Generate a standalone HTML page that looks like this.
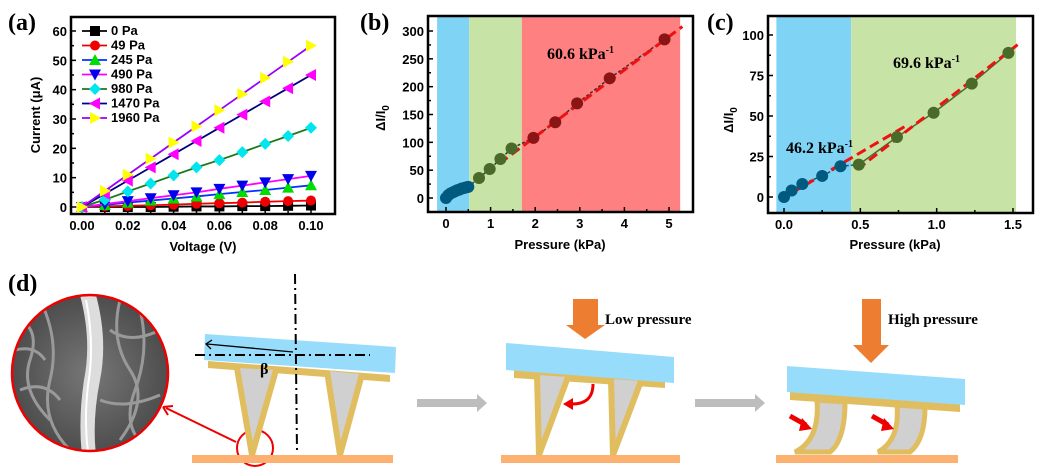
<!DOCTYPE html>
<html><head><meta charset="utf-8">
<style>
html,body{margin:0;padding:0;background:#fff;}
svg{display:block;font-family:"Liberation Sans",sans-serif;}
.tk{font-weight:bold;font-size:13px;fill:#000;}
.pl{font-family:"Liberation Serif",serif;font-weight:bold;font-size:24px;}
.ser{font-family:"Liberation Serif",serif;font-weight:bold;}
</style></head>
<body>
<svg id="fig" width="1048" height="476" viewBox="0 0 1048 476" xmlns="http://www.w3.org/2000/svg">
<g id="pa"></g>
<g id="pb"></g>
<g id="pc"></g>
<g id="pd">
  <text class="pl" x="8" y="291">(d)</text>
  <defs>
    <clipPath id="cc"><circle cx="90" cy="373" r="78"/></clipPath>
    <radialGradient id="sem" cx="50%" cy="50%" r="60%"><stop offset="0" stop-color="#777"/><stop offset="1" stop-color="#444"/></radialGradient>
  </defs>
  <g clip-path="url(#cc)">
    <rect x="10" y="294" width="160" height="160" fill="url(#sem)"/>
    <path d="M20 320 Q40 330 30 360 T50 420 M40 300 Q60 340 50 380 T70 450 M120 300 Q110 340 130 370 T120 440 M140 310 Q150 350 135 390 T150 450 M20 390 Q45 380 60 400 M110 330 Q130 345 160 330 M100 400 Q125 410 160 395 M15 350 Q35 345 45 360" stroke="#999" stroke-width="3" fill="none"/>
    <path d="M80 295 Q92 340 84 380 Q78 420 82 455 L96 455 Q92 420 100 380 Q108 340 96 295 Z" fill="#ddd"/>
    <path d="M86 300 Q95 345 88 385 Q84 420 88 452" stroke="#fff" stroke-width="2" fill="none"/>
  </g>
  <circle cx="90" cy="373" r="78" fill="none" stroke="#e00" stroke-width="2.5"/>
  <line x1="236" y1="442" x2="166" y2="408" stroke="#e00" stroke-width="2"/>
  <path d="M163 407 L173 406 M163 407 L168 415" stroke="#e00" stroke-width="2" fill="none"/>
  <circle cx="255" cy="448" r="18" fill="none" stroke="#e00" stroke-width="2"/>
  <g>
    <rect x="192" y="455" width="201" height="8" fill="#fdb170"/>
    <polygon points="208,361 390,375 390,382 208,368" fill="#e0bd5f"/>
    <polygon points="237,368 276,370 252,455" fill="#d0d0d0"/>
    <polygon points="327,371 362,374 340,455" fill="#d0d0d0"/>
    <path d="M237 368 L252 455 L276 370 M327 371 L340 455 L362 374" stroke="#e0bd5f" stroke-width="6" fill="none"/>
    <polygon points="205,334 396,347 395,373 204,360" fill="#98dcfc"/>
    <line x1="295" y1="274" x2="297" y2="452" stroke="#000" stroke-width="2" stroke-dasharray="10,4,2,4"/>
    <line x1="195" y1="355" x2="370" y2="355" stroke="#000" stroke-width="2" stroke-dasharray="10,4,2,4"/>
    <line x1="293" y1="352" x2="207" y2="344" stroke="#000" stroke-width="1.3"/>
    <path d="M212 340 L206 344 L211 349" stroke="#000" stroke-width="1.3" fill="none"/>
    <text class="ser" x="260" y="374" font-size="16">β</text>
  </g>
  <rect x="417" y="399" width="60" height="8" fill="#bdbdbd"/>
  <polygon points="477,394 487,403 477,412" fill="#bdbdbd"/>
  <g>
    <rect x="573" y="299" width="25" height="27" fill="#ed7d31"/>
    <polygon points="566,325 605,325 585,339" fill="#ed7d31"/>
    <text class="ser" x="605" y="324" font-size="15">Low pressure</text>
    <rect x="501" y="455" width="179" height="8" fill="#fdb170"/>
    <polygon points="514,370 665,380 665,388 514,378" fill="#e0bd5f"/>
    <polygon points="537,375 568,377 539,455" fill="#d0d0d0"/>
    <polygon points="611,379 641,381 613,455" fill="#d0d0d0"/>
    <path d="M537 375 L539 455 L568 377 M611 379 L613 455 L641 381" stroke="#e0bd5f" stroke-width="6" fill="none"/>
    <polygon points="506,343 674,357 674,383 506,370" fill="#98dcfc"/>
    <path d="M593 384 Q593 405 570 404" stroke="#e00" stroke-width="3" fill="none"/>
    <polygon points="573,398 563,404 573,410" fill="#e00"/>
  </g>
  <rect x="695" y="399" width="60" height="8" fill="#bdbdbd"/>
  <polygon points="755,394 765,403 755,412" fill="#bdbdbd"/>
  <g>
    <rect x="862" y="299" width="19" height="47" fill="#ed7d31"/>
    <polygon points="853,345 889,345 871,363" fill="#ed7d31"/>
    <text class="ser" x="888" y="324" font-size="15">High pressure</text>
    <rect x="776" y="455" width="182" height="8" fill="#fdb170"/>
    <polygon points="790,392 960,404 960,412 790,400" fill="#e0bd5f"/>
    <path d="M817 400 Q820 440 795 452 L830 452 Q845 440 845 402 Z" fill="#d0d0d0" stroke="#e0bd5f" stroke-width="5"/>
    <path d="M897 405 Q900 440 878 452 L910 452 Q925 440 925 407 Z" fill="#d0d0d0" stroke="#e0bd5f" stroke-width="5"/>
    <polygon points="787,366 965,379 965,405 787,392" fill="#98dcfc"/>
    <line x1="790" y1="416" x2="806" y2="425" stroke="#e00" stroke-width="5"/>
    <polygon points="802,418 812,429 799,431" fill="#e00"/>
    <line x1="872" y1="416" x2="888" y2="425" stroke="#e00" stroke-width="5"/>
    <polygon points="884,418 894,429 881,431" fill="#e00"/>
  </g>
</g>
</svg>
<script>
const NS='http://www.w3.org/2000/svg';
function mk(p,t,a){const e=document.createElementNS(NS,t);for(const k in a)e.setAttribute(k,a[k]);p.appendChild(e);return e;}
function txt(p,x,y,s,cls,anchor){const e=mk(p,'text',{x:x,y:y,'class':cls||'tk','text-anchor':anchor||'middle'});e.textContent=s;return e;}

const aVoltage=[0,0.01,0.02,0.03,0.04,0.05,0.06,0.07,0.08,0.09,0.10];
const aLabels=['0 Pa','49 Pa','245 Pa','490 Pa','980 Pa','1470 Pa','1960 Pa'];
const a0=[0,0,0,0,0.1,0.2,0.2,0.3,0.3,0.4,0.5];
const a49=[0,0.2,0.4,0.6,0.8,1.1,1.3,1.5,1.8,2.0,2.2];
const a245=[0,0.7,1.5,2.2,2.9,3.6,4.4,5.1,5.8,6.6,7.4];
const a490=[0,1,2,3,4,5,6.2,7.3,8.4,9.5,10.6];
const a980=[0,2.5,5.3,8,10.8,13.5,16,18.7,21.5,24.2,27];
const a1470=[0,4.5,9,13.5,18,22.5,27,31.5,36,40.5,45];
const a1960=[0,5.5,11,16.5,22,27.5,33,38.5,44,49.5,55];
const aXTicks=[0,0.02,0.04,0.06,0.08,0.10];
const aXTickLabels=['0.00','0.02','0.04','0.06','0.08','0.10'];
const aYTicks=[0,10,20,30,40,50,60];

const bPressBlue=[0,0.05,0.1,0.15,0.2,0.25,0.3,0.35,0.4,0.45,0.5];
const bRespBlue=[0,5,8,10,12,14,15,17,18,19,20];
const bPressGreen=[0.74,0.98,1.22,1.47];
const bRespGreen=[36,52,70,89];
const bPressRed=[1.96,2.45,2.94,3.67,4.9];
const bRespRed=[108,136,170,215,285];
const bFitX=[1.2,5.3];
const bFitY=[62,308];
const bBands=[-0.2,0.52,1.7,5.25];
const bXTicks=[0,1,2,3,4,5];
const bYTicks=[0,50,100,150,200,250,300];

const cPressBlue=[0,0.05,0.12,0.25,0.37];
const cRespBlue=[0,4,8,13,19];
const cPressGreen=[0.49,0.74,0.98,1.23,1.47];
const cRespGreen=[20,37,52,70,89];
const cFit1X=[-0.03,0.8];
const cFit1Y=[-2,44];
const cFit2X=[0.48,1.53];
const cFit2Y=[17,94];
const cBands=[-0.05,0.44,1.52];
const cXTicks=[0,0.5,1.0,1.5];
const cXTickLabels=['0.0','0.5','1.0','1.5'];
const cYTicks=[0,25,50,75,100];

function frame(g,x0,y0,x1,y1){
  const r=mk(g,'rect',{x:x0,y:y0,width:x1-x0,height:y1-y0,fill:'none',stroke:'#000','stroke-width':2.5});
  
  
}
function xAxis(g,ticks,labels,sx,y,minor){
  ticks.forEach((t,i)=>{
    mk(g,'line',{x1:sx(t),x2:sx(t),y1:y,y2:y-5,stroke:'#000','stroke-width':1.5});
    const e=txt(g,sx(t),y+16,labels?labels[i]:String(t));
    
    
    if(minor&&i<ticks.length-1){const m=(t+ticks[i+1])/2;mk(g,'line',{x1:sx(m),x2:sx(m),y1:y,y2:y-3,stroke:'#000','stroke-width':1.5});}
  });
}
function yAxis(g,ticks,sy,x,minor){
  ticks.forEach((t,i)=>{
    mk(g,'line',{x1:x,x2:x+5,y1:sy(t),y2:sy(t),stroke:'#000','stroke-width':1.5});
    const e=txt(g,x-4,sy(t)+5,String(t),'tk','end');
    
    
    if(minor&&i<ticks.length-1){const m=(t+ticks[i+1])/2;mk(g,'line',{x1:x,x2:x+3,y1:sy(m),y2:sy(m),stroke:'#000','stroke-width':1.5});}
  });
}
function marker(g,type,x,y,fill,s){
  s=s||6;let e;
  if(type==='sq')e=mk(g,'rect',{x:x-s,y:y-s,width:2*s,height:2*s,fill:fill});
  else if(type==='ci')e=mk(g,'circle',{cx:x,cy:y,r:s,fill:fill});
  else if(type==='up')e=mk(g,'polygon',{points:`${x},${y-s-1} ${x+s+1},${y+s} ${x-s-1},${y+s}`,fill:fill});
  else if(type==='dn')e=mk(g,'polygon',{points:`${x},${y+s+1} ${x+s+1},${y-s} ${x-s-1},${y-s}`,fill:fill});
  else if(type==='di')e=mk(g,'polygon',{points:`${x},${y-s-1} ${x+s+1},${y} ${x},${y+s+1} ${x-s-1},${y}`,fill:fill});
  else if(type==='lt')e=mk(g,'polygon',{points:`${x-s-1},${y} ${x+s},${y-s-1} ${x+s},${y+s+1}`,fill:fill});
  else if(type==='rt')e=mk(g,'polygon',{points:`${x+s+1},${y} ${x-s},${y-s-1} ${x-s},${y+s+1}`,fill:fill});
  return e;
}

(function(){
  const g=document.getElementById('pa');
  const sx=v=>82+v*(311-82)/0.10, sy=v=>207-v*(207-31)/60;
  txt(g,8,30,'(a)','pl','start');
  frame(g,71,17,335,214);
  xAxis(g,aXTicks,aXTickLabels,sx,214,true);
  yAxis(g,aYTicks,sy,71,true);
  const xt=txt(g,203,251,'Voltage (V)');xt.setAttribute('font-size','14');
  
  
  const yt=txt(g,0,0,'Current (μA)');yt.setAttribute('transform','translate(40,115) rotate(-90)');yt.setAttribute('font-size','14');
  
  
  const series=[a0,a49,a245,a490,a980,a1470,a1960];
  const lineC=['#000','#e00','#0033ff','#ff00ff','#1a7a1a','#000080','#9900ff'];
  const markC=['#000','#e00','#00dd00','#0000ee','#00e5ee','#ff00ff','#ffff00'];
  const mt=['sq','ci','up','dn','di','lt','rt'];
  series.forEach((vals,k)=>{
    const s=mk(g,'g',{});
    
    
    mk(s,'polyline',{points:vals.map((v,i)=>sx(aVoltage[i])+','+sy(v)).join(' '),fill:'none',stroke:lineC[k],'stroke-width':1.8});
    vals.forEach((v,i)=>marker(s,mt[k],sx(aVoltage[i]),sy(v),markC[k],5));
    const ly=31+k*14.5;
    const le=mk(g,'g',{});
    
    
    mk(le,'line',{x1:82,x2:107,y1:ly,y2:ly,stroke:lineC[k],'stroke-width':1.8});
    marker(le,mt[k],95,ly,markC[k],5);
    const t=txt(le,111,ly+4,aLabels[k],'tk','start');t.setAttribute('font-size','11');
  });
})();

(function(){
  const g=document.getElementById('pb');
  const sx=v=>446+v*(669-446)/5, sy=v=>198-v*(198-31)/300;
  txt(g,360,30,'(b)','pl','start');
  const bc=['#7fd3f5','#c8e3a6','#ff8080'];
  for(let i=0;i<3;i++){
    const r=mk(g,'rect',{x:sx(bBands[i]),y:17,width:sx(bBands[i+1])-sx(bBands[i]),height:195,fill:bc[i]});
    
    
  }
  frame(g,428,16,693,212);
  xAxis(g,bXTicks,null,sx,212,true);
  yAxis(g,bYTicks,sy,428,true);
  const xt=txt(g,560,249,'Pressure (kPa)');xt.setAttribute('font-size','14');
  
  
  const yt=mk(g,'text',{transform:'translate(385,118) rotate(-90)','text-anchor':'middle','class':'tk','font-size':'14'});
  yt.innerHTML='ΔI/I<tspan font-size="10" dy="4">0</tspan>';
  
  
  const px=bPressBlue.concat(bPressGreen,bPressRed), py=bRespBlue.concat(bRespGreen,bRespRed);
  mk(g,'polyline',{points:px.map((v,i)=>sx(v)+','+sy(py[i])).join(' '),fill:'none',stroke:'#333','stroke-width':1.5,'stroke-dasharray':'3,2'});
  const f=mk(g,'line',{x1:sx(bFitX[0]),y1:sy(bFitY[0]),x2:sx(bFitX[1]),y2:sy(bFitY[1]),stroke:'#ee1111','stroke-width':3,'stroke-dasharray':'10,5'});
  
  
  [[bPressBlue,bRespBlue,'#005a7f'],[bPressGreen,bRespGreen,'#4a6a2a'],[bPressRed,bRespRed,'#8b1515']].forEach(([xs,ys,c])=>{
    xs.forEach((x,i)=>{const m=marker(g,'ci',sx(x),sy(ys[i]),c);
      
      });
  });
  const a=mk(g,'text',{x:547,y:59,'class':'ser','font-size':'16'});a.innerHTML='60.6 kPa<tspan font-size="10" dy="-6">-1</tspan>';
  
  
})();

(function(){
  const g=document.getElementById('pc');
  const sx=v=>784+v*(1013-784)/1.5, sy=v=>197-v*(197-35)/100;
  txt(g,707,30,'(c)','pl','start');
  const bc=['#7fd3f5','#c8e3a6'];
  for(let i=0;i<2;i++){
    const r=mk(g,'rect',{x:sx(cBands[i]),y:17,width:sx(cBands[i+1])-sx(cBands[i]),height:195,fill:bc[i]});
    
    
  }
  frame(g,768,16,1033,213);
  xAxis(g,cXTicks,cXTickLabels,sx,213,true);
  yAxis(g,cYTicks,sy,768,true);
  const xt=txt(g,895,249,'Pressure (kPa)');xt.setAttribute('font-size','14');
  
  
  const yt=mk(g,'text',{transform:'translate(733,120) rotate(-90)','text-anchor':'middle','class':'tk','font-size':'14'});
  yt.innerHTML='ΔI/I<tspan font-size="10" dy="4">0</tspan>';
  
  
  mk(g,'polyline',{points:cPressBlue.map((v,i)=>sx(v)+','+sy(cRespBlue[i])).join(' ')+' '+sx(cPressGreen[0])+','+sy(cRespGreen[0]),fill:'none',stroke:'#005a7f','stroke-width':1.5,'stroke-dasharray':'3,2'});
  mk(g,'polyline',{points:cPressGreen.map((v,i)=>sx(v)+','+sy(cRespGreen[i])).join(' '),fill:'none',stroke:'#4a6a2a','stroke-width':1.5});
  [[cFit1X,cFit1Y],[cFit2X,cFit2Y]].forEach(([fx,fy])=>{
    const f=mk(g,'line',{x1:sx(fx[0]),y1:sy(fy[0]),x2:sx(fx[1]),y2:sy(fy[1]),stroke:'#ee1111','stroke-width':3,'stroke-dasharray':'10,5'});
    
    
  });
  [[cPressBlue,cRespBlue,'#005a7f'],[cPressGreen,cRespGreen,'#4a6a2a']].forEach(([xs,ys,c])=>{
    xs.forEach((x,i)=>{const m=marker(g,'ci',sx(x),sy(ys[i]),c);
      
      });
  });
  const a=mk(g,'text',{x:893,y:68,'class':'ser','font-size':'16'});a.innerHTML='69.6 kPa<tspan font-size="10" dy="-6">-1</tspan>';
  
  
  const b=mk(g,'text',{x:786,y:153,'class':'ser','font-size':'16'});b.innerHTML='46.2 kPa<tspan font-size="10" dy="-6">-1</tspan>';
  
  
})();
</script>
</body></html>
